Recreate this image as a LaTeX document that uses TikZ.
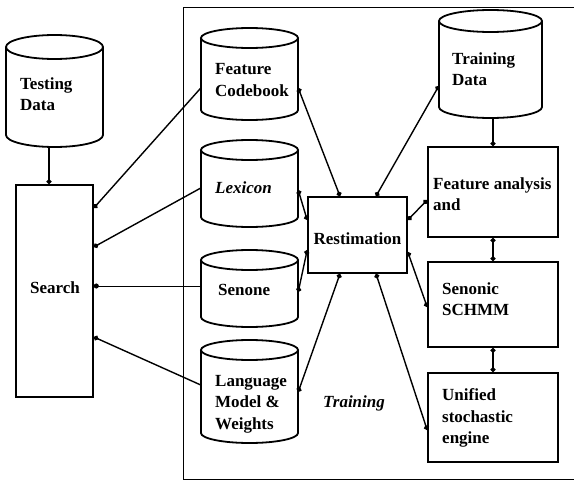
\documentclass[tikz,border=0pt]{standalone}
\usepackage{fontspec}
\setmainfont{Liberation Serif}
\usetikzlibrary{arrows.meta}

\tikzset{
  cylline/.style={line width=1.8pt},
  dbnode/.style={draw=none, rectangle, inner sep=0pt},
  procbox/.style={draw, line width=1.6pt, rectangle, inner sep=0pt},
  lbl/.style={font=\fontsize{17}{21.5}\selectfont\bfseries, align=left, inner sep=0pt},
  link/.style={line width=1.4pt},
  thinlink/.style={line width=0.9pt},
  dotend/.style={-{Circle[length=5pt]}},
  dotboth/.style={{Circle[length=5pt]}-{Circle[length=5pt]}},
}

% database symbol: name, left, right, top, bottom, cap radius
\newcommand\database[6]{%
  \pgfmathsetmacro\dbw{#3-#2}\pgfmathsetmacro\dbh{#5-#4}%
  \pgfmathsetmacro\dbcx{(#2+#3)/2}\pgfmathsetmacro\dbcy{(#4+#5)/2}%
  \pgfmathsetmacro\dbrx{\dbw/2}%
  \node[dbnode, minimum width=\dbw pt, minimum height=\dbh pt] (#1) at (\dbcx,\dbcy) {};
  \draw[cylline] (#2,#4+#6) -- (#2,#5-#6)
    arc[start angle=180, end angle=0, x radius=\dbrx, y radius=#6] -- (#3,#4+#6);
  \draw[cylline] (\dbcx,#4+#6) ellipse[x radius=\dbrx, y radius=#6];
}

\begin{document}
\begin{tikzpicture}[x=1pt, y=-1pt]
\useasboundingbox (0,0) rectangle (574,482);

% training frame (open towards the right)
\draw[line width=1pt] (574,7) -- (183,7) -- (183,479) -- (574,479);

% data stores
\database{td}{6}{103}{35}{147}{12}
\node[lbl, anchor=west] (tdl) at (20,94) {Testing\\Data};
\database{fc}{201}{298}{28}{120}{10}
\node[lbl, anchor=west] (fcl) at (215,80) {Feature\\Codebook};
\database{lx}{201}{298}{140}{227}{10}
\node[lbl, anchor=west, font=\fontsize{17}{21.5}\selectfont\bfseries\itshape] (lxl) at (215,188) {Lexicon};
\database{sn}{201}{298}{250}{327}{10}
\node[lbl, anchor=west] (snl) at (218,290) {Senone};
\database{lm}{201}{298}{340}{443}{10}
\node[lbl, anchor=west] (lml) at (215,404) {Language\\Model \&\\Weights};
\database{trd}{439}{542}{10}{118}{11}
\node[lbl, anchor=west] (trdl) at (452,69) {Training\\Data};

% processing blocks
\node[procbox, minimum width=77pt, minimum height=212pt] (search) at (54.5,291) {};
\node[lbl] (searchl) at (55,288) {Search};
\node[procbox, minimum width=99pt, minimum height=76pt] (rs) at (357.5,235) {};
\node[lbl] (rsl) at (357.5,239) {Restimation};
\node[procbox, minimum width=130pt, minimum height=90pt] (fa) at (493,192) {};
\node[lbl, anchor=west] (fal) at (433,194) {Feature analysis\\and};
\node[procbox, minimum width=130pt, minimum height=85pt] (ss) at (493,304.5) {};
\node[lbl, anchor=west] (ssl) at (442,299) {Senonic\\SCHMM};
\node[procbox, minimum width=130pt, minimum height=89pt] (ue) at (493,417.5) {};
\node[lbl, anchor=west] (uel) at (442,418) {Unified\\stochastic\\engine};

\node[lbl, font=\fontsize{17}{21.5}\selectfont\bfseries\itshape] (trainl) at (354,403) {Training};

% search inputs
\draw[link, dotend] ([xshift=-5.5pt]td.south) -- ([xshift=-5.5pt]search.north);
\draw[link, dotend] ([yshift=-14pt]fc.west) -- ([yshift=83pt]search.east);
\draw[link, dotend] ([yshift=-4.5pt]lx.west) -- ([yshift=44pt]search.east);
\draw[thinlink, dotend] ([yshift=2.5pt]sn.west) -- ([yshift=5pt]search.east);
\draw[link, dotend] ([yshift=6.5pt]lm.west) -- ([yshift=-46pt]search.east);

% re-estimation links
\draw[link, dotboth] ([xshift=-17.5pt]rs.north) -- ([yshift=-14pt]fc.east);
\draw[link, dotboth] ([xshift=18.5pt]rs.north) -- ([yshift=-22pt]trd.west);
\draw[link, dotboth] ([yshift=15pt]rs.west) -- ([yshift=-6.5pt]lx.east);
\draw[link, dotboth] ([yshift=-15pt]rs.west) -- ([yshift=-3.5pt]sn.east);
\draw[link, dotboth] ([xshift=-17.5pt]rs.south) -- ([yshift=-0.5pt]lm.east);
\draw[link, dotboth] ([xshift=18.5pt]rs.south) -- ([yshift=-12.5pt]ue.west);
\draw[link, dotboth] ([yshift=15pt]rs.east) -- ([yshift=-8pt]fa.west);
\draw[link, dotboth] ([yshift=-17pt]rs.east) -- ([yshift=-2.5pt]ss.west);

% training pipeline
\draw[link, dotend] (trd.south -| fa.north) -- (fa.north);
\draw[link, dotboth] (fa.south) -- (ss.north);
\draw[link, dotboth] (ss.south) -- (ue.north);
\end{tikzpicture}
\end{document}
